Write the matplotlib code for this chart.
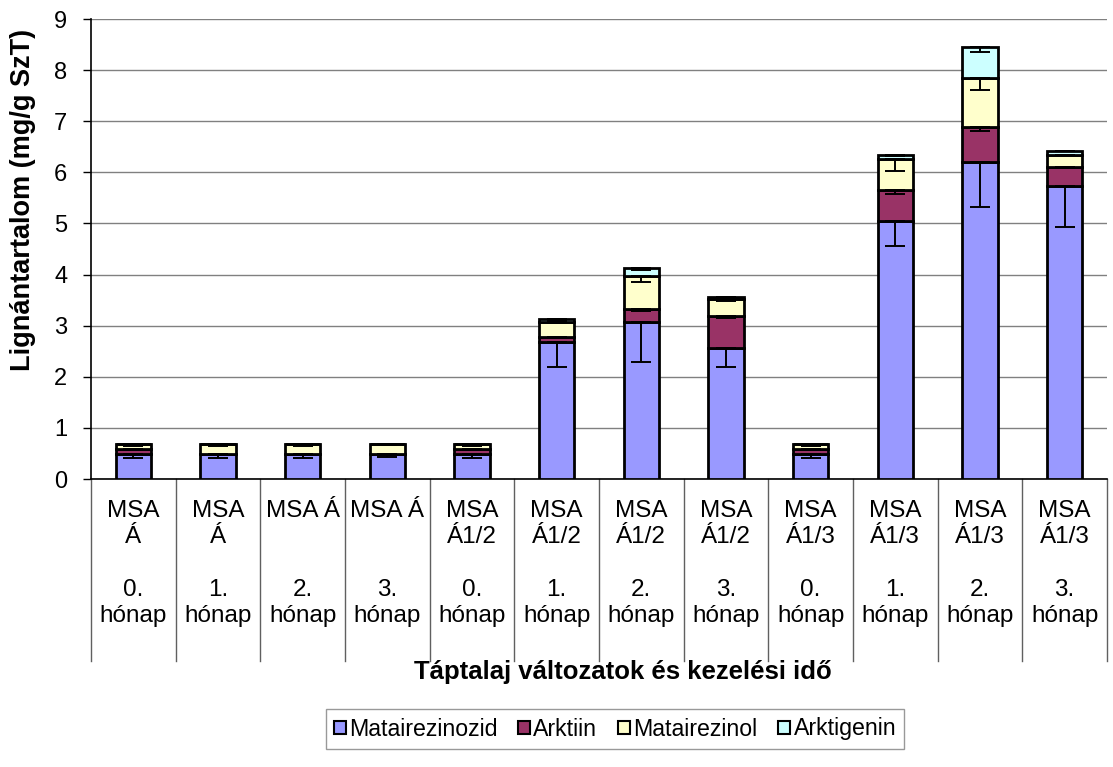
import numpy as np
import matplotlib.pyplot as plt
from matplotlib.patches import Patch

plt.rcParams['font.family'] = ['Liberation Sans', 'DejaVu Sans']

labels = ["MSA\nÁ\n\n0.\nhónap", "MSA\nÁ\n\n1.\nhónap", "MSA Á\n\n\n2.\nhónap", "MSA Á\n\n\n3.\nhónap",
          "MSA\nÁ1/2\n\n0.\nhónap", "MSA\nÁ1/2\n\n1.\nhónap", "MSA\nÁ1/2\n\n2.\nhónap", "MSA\nÁ1/2\n\n3.\nhónap",
          "MSA\nÁ1/3\n\n0.\nhónap", "MSA\nÁ1/3\n\n1.\nhónap", "MSA\nÁ1/3\n\n2.\nhónap", "MSA\nÁ1/3\n\n3.\nhónap"]

series = ["Matairezinozid", "Arktiin", "Matairezinol", "Arktigenin"]
colors = ["#9999FF", "#993366", "#FFFFCC", "#CCFFFF"]

matairezinozid = [0.48, 0.48, 0.48, 0.48, 0.48, 2.69, 3.07, 2.56, 0.48, 5.05, 6.21, 5.74]
arktiin = [0.10, 0.0, 0.0, 0.0, 0.10, 0.09, 0.25, 0.62, 0.10, 0.60, 0.68, 0.37]
matairezinol = [0.10, 0.20, 0.20, 0.20, 0.10, 0.30, 0.66, 0.34, 0.10, 0.61, 0.96, 0.23]
arktigenin = [0.0, 0.0, 0.0, 0.0, 0.0, 0.05, 0.14, 0.04, 0.0, 0.07, 0.61, 0.08]

err_mat = [0.06, 0.07, 0.07, 0.05, 0.07, 0.49, 0.79, 0.36, 0.07, 0.49, 0.89, 0.80]
err_ark = [0.01, 0.0, 0.0, 0.0, 0.01, 0.02, 0.03, 0.03, 0.01, 0.07, 0.08, 0.03]
err_matol = [0.04, 0.04, 0.03, 0.01, 0.04, 0.03, 0.13, 0.04, 0.04, 0.23, 0.24, 0.01]
err_arktig = [0.0, 0.0, 0.0, 0.0, 0.0, 0.01, 0.04, 0.01, 0.0, 0.01, 0.10, 0.01]

data = [matairezinozid, arktiin, matairezinol, arktigenin]
errs = [err_mat, err_ark, err_matol, err_arktig]

fig = plt.figure(figsize=(11.13, 7.67), dpi=100)
ax = fig.add_axes([91/1113, 1-479/767, 1016/1113, 460/767])

x = np.arange(len(labels))
bottom = np.zeros(len(labels))
for vals, er, c, name in zip(data, errs, colors, series):
    vals = np.array(vals)
    ax.bar(x, vals, 0.42, bottom=bottom, color=c, edgecolor='black', linewidth=2, label=name, zorder=3)
    top = bottom + vals
    m = vals > 0
    ax.errorbar(x[m], top[m], yerr=[np.array(er)[m], np.zeros(m.sum())], fmt='none',
                ecolor='black', elinewidth=1.4, capsize=7, capthick=1.4, zorder=4)
    bottom = top

ax.set_xlim(-0.5, 11.5)
ax.set_ylim(0, 9)
ax.set_yticks(range(10))
ax.tick_params(axis='y', labelsize=17, direction='out', length=6, width=1, pad=11)
ax.yaxis.grid(True, color='#808080', linewidth=1, zorder=0)
ax.set_xticks(x)
ax.set_xticklabels(labels, fontsize=17.5, linespacing=1.25)
ax.tick_params(axis='x', length=0, pad=15)
for s in ['top', 'right']:
    ax.spines[s].set_visible(False)
ax.spines['left'].set_linewidth(1.2)
ax.spines['bottom'].set_linewidth(1.2)

trans = ax.get_xaxis_transform()
for b in np.arange(-0.5, 12, 1.0):
    ax.plot([b, b], [0, -0.395], transform=trans, color='#606060', linewidth=1, clip_on=False)

fig.text(623/1113, 1-672/767, "Táptalaj változatok és kezelési idő", fontsize=18.5, fontweight='bold',
         ha='center', va='center')
fig.text(23/1113, 1-200/767, "Lignántartalom (mg/g SzT)", fontsize=19.5, fontweight='bold',
         rotation=90, ha='center', va='center')

handles = [Patch(facecolor=c, edgecolor='black', linewidth=1.5) for c in colors]
leg = fig.legend(handles, series, loc='center', bbox_to_anchor=(615/1113, 1-729/767), ncol=4,
                 fontsize=16.7, frameon=True, fancybox=False, handlelength=0.5, handleheight=0.5,
                 handletextpad=0.15, columnspacing=0.9, borderpad=0.35)
leg.get_frame().set_edgecolor('#808080')
leg.get_frame().set_linewidth(1)

fig.savefig('out.png', dpi=100)
